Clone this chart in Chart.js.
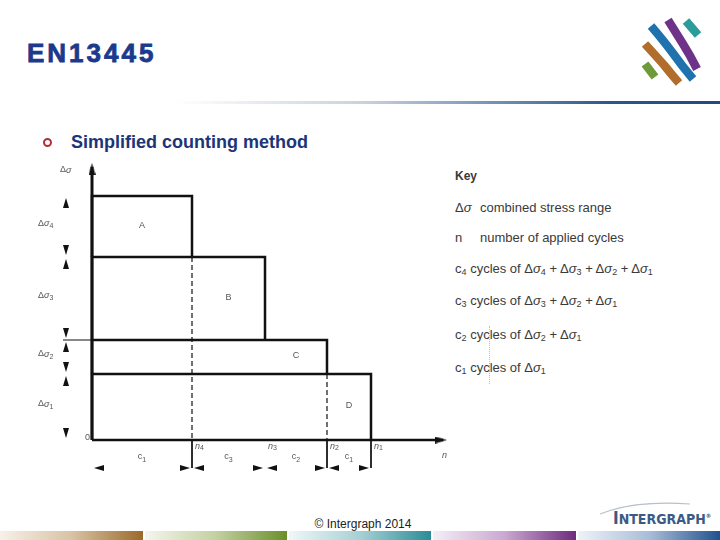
<!DOCTYPE html>
<html>
<head>
<meta charset="utf-8">
<script src="https://cdn.jsdelivr.net/npm/chart.js@4.4.1/dist/chart.umd.min.js"></script>
<style>
  body { margin: 0; width: 720px; height: 540px; overflow: hidden; background: #fff; position: relative; font-family: "Liberation Sans", Arial, sans-serif; }
  .abs { position: absolute; white-space: nowrap; }
  .title { left: 27px; top: 40px; font-size: 26px; line-height: 26px; font-weight: bold; color: #1b3a8c; letter-spacing: 3px; -webkit-text-stroke: 0.8px #1b3a8c; }
  .bullet { left: 43px; top: 138px; width: 5px; height: 5px; border: 2px solid #b0303a; border-radius: 50%; }
  .sub-title { left: 71px; top: 133px; font-size: 18px; line-height: 18px; font-weight: bold; color: #1c3578; }
  .rule { left: 175px; top: 101px; width: 545px; height: 3px; background: linear-gradient(to right, #ffffff, #c7d1de 35%, #2a578f 80%, #1f4a85); }
  .key { font-size: 13px; line-height: 13px; color: #3a3a3a; }
  .key sub { font-size: 9px; vertical-align: -2px; line-height: 0; }
  .foot { left: 0; width: 726px; top: 518px; text-align: center; font-size: 12px; line-height: 12px; color: #222; }
  .bar { top: 531px; height: 9px; }
  .brand { left: 613px; top: 509px; font-family: "Liberation Sans Narrow", "DejaVu Sans Condensed", Arial, sans-serif; font-weight: bold; font-size: 14px; line-height: 14px; color: #3b5a84; }
  #chart-steps { position: absolute; left: 0; top: 0; }
</style>
</head>
<body>
<div class="abs title">EN13445</div>
<div class="abs rule"></div>
<svg class="abs" style="left:630px;top:10px" width="80" height="85" viewBox="630 10 80 85">
  <g fill="none" stroke-width="8.5" stroke-linecap="butt">
    <path d="M686 21 L698 35" stroke="#2a9c9c"/>
    <path d="M668 20 Q678 36 683 44 Q690 55 697 69" stroke="#6e3389"/>
    <path d="M651 26 Q663 40 672 52 Q682 66 693 79" stroke="#1f72ad"/>
    <path d="M645 44 Q656 56 664 65 Q672 75 679 83" stroke="#b06d2c"/>
    <path d="M645 64 L655 77" stroke="#6f9a3a"/>
  </g>
</svg>
<div class="abs bullet"></div>
<div class="abs sub-title">Simplified counting method</div>

<div class="abs key" style="left:455px;top:170px;font-size:12px;font-weight:bold">Key</div>
<div class="abs key" style="left:455px;top:201px">Δ<i>σ</i></div>
<div class="abs key" style="left:480px;top:201px">combined stress range</div>
<div class="abs key" style="left:455px;top:231px">n</div>
<div class="abs key" style="left:480px;top:231px">number of applied cycles</div>
<div class="abs key" style="left:455px;top:262px">c<sub>4</sub> cycles of Δ<i>σ</i><sub>4</sub> + Δ<i>σ</i><sub>3</sub> + Δ<i>σ</i><sub>2</sub> + Δ<i>σ</i><sub>1</sub></div>
<div class="abs key" style="left:455px;top:294px">c<sub>3</sub> cycles of Δ<i>σ</i><sub>3</sub> + Δ<i>σ</i><sub>2</sub> + Δ<i>σ</i><sub>1</sub></div>
<div class="abs key" style="left:455px;top:328px">c<sub>2</sub> cycles of Δ<i>σ</i><sub>2</sub> + Δ<i>σ</i><sub>1</sub></div>
<div class="abs key" style="left:455px;top:361px">c<sub>1</sub> cycles of Δ<i>σ</i><sub>1</sub></div>
<div class="abs" style="left:489px;top:326px;height:58px;border-left:1px dotted #bbb"></div>

<div class="abs foot">© Intergraph 2014</div>
<svg class="abs" style="left:595px;top:498px" width="110" height="20">
  <path d="M5 16 Q40 2 95 6" fill="none" stroke="#b8c0cc" stroke-width="1.2"/>
</svg>
<div class="abs brand"><span style="font-size:17px">I</span>NTERGRAPH<span style="font-size:6px;vertical-align:6px">®</span></div>
<div class="abs bar" style="left:0;width:143px;background:linear-gradient(to right,#f6f1e9,#d8c3a4 50%,#9b6a2b)"></div>
<div class="abs bar" style="left:145px;width:142px;background:linear-gradient(to right,#f4f6ec,#c3d0a2 50%,#6b8f2a)"></div>
<div class="abs bar" style="left:289px;width:142px;background:linear-gradient(to right,#eef7f8,#a6d0d5 50%,#2b8c97)"></div>
<div class="abs bar" style="left:433px;width:143px;background:linear-gradient(to right,#f4eef6,#c9a9d1 50%,#6e2b7d)"></div>
<div class="abs bar" style="left:578px;width:142px;background:linear-gradient(to right,#eef2f8,#a9bdd8 50%,#21518d)"></div>

<canvas id="chart-steps" width="720" height="540"></canvas>
<script>
// right edge of each block on the n axis (n4, n3, n2, n1)
const cycleEnds = [100, 173, 235, 279]
// stress levels from the top of block A down to the base line
const stressLevels = [244, 183, 100, 66, 0]
const blockNames = ['A', 'B', 'C', 'D']
const cycleSubs = ['4', '3', '2', '1']   // n4 .. n1
const countSubs = ['1', '3', '2', '1']   // c labels under each span
const rangeSubs = ['4', '3', '2', '1']   // Δσ4 .. Δσ1
const dashedBlocks = [0, 2]              // blocks whose right edge is carried down dashed
const extendedBlocks = [0, 2, 3]         // extension lines below the n axis
const nMax = 355
const stressMax = 277

const ink = '#111'
const labelInk = '#555'

const spanStart = i => (i === 0 ? 0 : cycleEnds[i - 1])

// narrow arrow head used as a point style, pointing up before rotation
const arrowImage = (w, h) => {
  const c = document.createElement('canvas')
  c.width = w
  c.height = h
  const g = c.getContext('2d')
  g.fillStyle = ink
  g.beginPath()
  g.moveTo(w / 2, 0)
  g.lineTo(w, h)
  g.lineTo(0, h)
  g.closePath()
  g.fill()
  return c
}
const smallHead = arrowImage(6, 10)
const axisHead = arrowImage(7, 12)

const blockSets = blockNames.map((name, i) => ({
  label: name,
  data: [
    { x: 0, y: stressLevels[i + 1] },
    { x: 0, y: stressLevels[i] },
    { x: cycleEnds[i], y: stressLevels[i] },
    { x: cycleEnds[i], y: stressLevels[i + 1] }
  ],
  borderColor: ink,
  borderWidth: 2.5
}))

const dashedSets = dashedBlocks.map(i => ({
  label: 'dash ' + i,
  data: [{ x: cycleEnds[i], y: stressLevels[i + 1] }, { x: cycleEnds[i], y: 0 }],
  borderColor: ink,
  borderWidth: 1.2,
  borderDash: [5, 3]
}))

const extensionSets = extendedBlocks.map(i => ({
  label: 'ext ' + i,
  data: [{ x: cycleEnds[i], y: 0 }, { x: cycleEnds[i], y: -28 }],
  borderColor: ink,
  borderWidth: 1
}))

// thin leader line at the C level, out to the left dimension column
extensionSets.push({
  label: 'leader',
  data: [{ x: -29, y: stressLevels[2] }, { x: 0, y: stressLevels[2] }],
  borderColor: ink,
  borderWidth: 1
})

const axisSets = [
  {
    label: 'stress axis',
    data: [{ x: 0, y: 0 }, { x: 0, y: stressMax - 4 }],
    borderColor: ink, borderWidth: 3
  },
  {
    label: 'n axis',
    data: [{ x: 0, y: 0 }, { x: nMax - 4, y: 0 }],
    borderColor: ink, borderWidth: 2.5
  }
]

// arrow heads, one dataset per direction (rotation in degrees, 0 = pointing up)
const arrowSet = (label, points, rotation, image) => ({
  label,
  data: points,
  showLine: false,
  pointStyle: image,
  pointRadius: 5,
  pointHoverRadius: 5,
  pointRotation: rotation
})

const upHeads = rangeSubs.map((s, i) => ({ x: -26, y: stressLevels[i] - 7 }))
const downHeads = rangeSubs.map((s, i) => ({ x: -26, y: stressLevels[i + 1] + 7 }))
const leftHeads = cycleEnds.map((end, i) => ({ x: spanStart(i) + 7, y: -28 }))
const rightHeads = cycleEnds.map(end => ({ x: end - 7, y: -28 }))

const headSets = [
  arrowSet('up', upHeads, 0, smallHead),
  arrowSet('down', downHeads, 180, smallHead),
  arrowSet('left', leftHeads, 270, smallHead),
  arrowSet('right', rightHeads, 90, smallHead),
  arrowSet('stress tip', [{ x: 0, y: stressMax - 6 }], 0, axisHead),
  arrowSet('n tip', [{ x: nMax - 6, y: 0 }], 90, axisHead)
]

const drawParts = (ctx, parts, px, py, align) => {
  let w = 0
  parts.forEach(p => { ctx.font = p.font; w += ctx.measureText(p.t).width })
  let cx = align === 'center' ? px - w / 2 : align === 'right' ? px - w : px
  parts.forEach(p => {
    ctx.font = p.font
    ctx.fillText(p.t, cx, py + (p.dy || 0))
    cx += ctx.measureText(p.t).width
  })
}
const reg = '9px "Liberation Sans", Arial, sans-serif'
const ita = 'italic 9px "Liberation Sans", Arial, sans-serif'
const small = '7px "Liberation Sans", Arial, sans-serif'
const sigma = sub => [{ t: 'Δ', font: reg }, { t: 'σ', font: ita }].concat(sub ? [{ t: sub, font: small, dy: 3 }] : [])

const diagramText = {
  id: 'diagramText',
  afterDatasetsDraw(chart) {
    const { ctx, scales: { x, y } } = chart
    ctx.save()
    ctx.fillStyle = labelInk
    ctx.textBaseline = 'middle'
    ctx.textAlign = 'left'

    drawParts(ctx, sigma(''), x.getPixelForValue(-32), y.getPixelForValue(270), 'left')
    rangeSubs.forEach((s, i) => {
      const mid = (stressLevels[i] + stressLevels[i + 1]) / 2 + 3
      drawParts(ctx, sigma(s), x.getPixelForValue(-54), y.getPixelForValue(mid), 'left')
    })
    drawParts(ctx, [{ t: '0', font: reg }], x.getPixelForValue(-2), y.getPixelForValue(2), 'right')

    cycleEnds.forEach((end, i) => {
      drawParts(ctx, [{ t: 'n', font: ita }, { t: cycleSubs[i], font: small, dy: 2 }],
        x.getPixelForValue(end + 3), y.getPixelForValue(-6), 'left')
      const mid = (spanStart(i) + end) / 2
      drawParts(ctx, [{ t: 'c', font: reg }, { t: countSubs[i], font: small, dy: 3 }],
        x.getPixelForValue(mid), y.getPixelForValue(-17), 'center')
      drawParts(ctx, [{ t: blockNames[i], font: reg }],
        x.getPixelForValue(mid), y.getPixelForValue((stressLevels[i] + stressLevels[i + 1]) / 2 + 1), 'center')
    })
    drawParts(ctx, [{ t: 'n', font: ita }], x.getPixelForValue(nMax - 5), y.getPixelForValue(-15), 'left')
    ctx.restore()
  }
}

// the plot area spans the whole drawing, margins included, at one pixel per unit
new Chart(document.getElementById('chart-steps'), {
  type: 'scatter',
  data: {
    datasets: [...dashedSets, ...extensionSets, ...blockSets, ...axisSets, ...headSets]
  },
  options: {
    responsive: false,
    animation: false,
    devicePixelRatio: 1,
    datasets: {
      scatter: { showLine: true, clip: false, pointRadius: 0 }
    },
    elements: {
      line: { tension: 0, fill: false }
    },
    layout: {
      padding: { left: 32, right: 268, top: 155, bottom: 65 }
    },
    plugins: {
      legend: { display: false },
      tooltip: { enabled: false }
    },
    events: [],
    scales: {
      x: { type: 'linear', min: -60, max: 360, display: false },
      y: { type: 'linear', min: -35, max: 285, display: false }
    }
  },
  plugins: [diagramText]
})
</script>
</body>
</html>
